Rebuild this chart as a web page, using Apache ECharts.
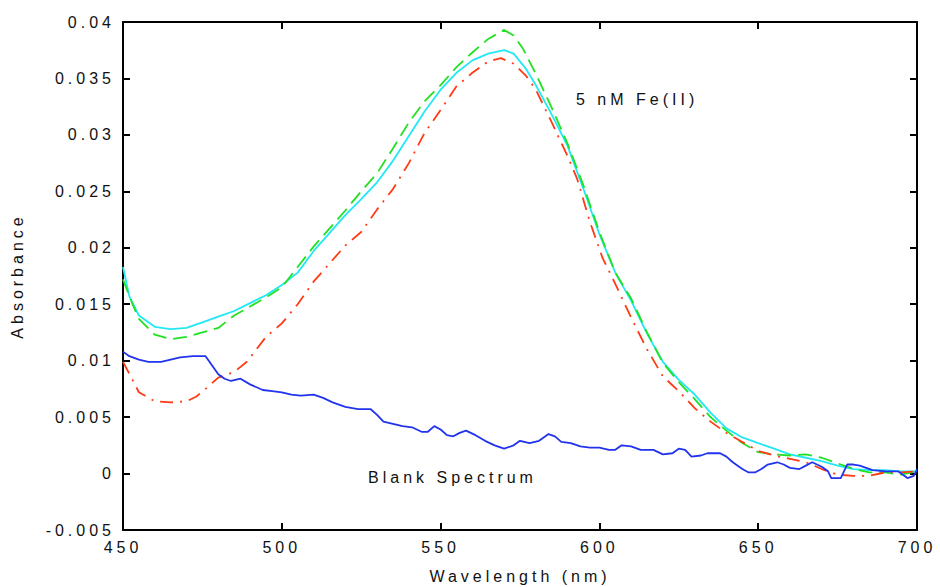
<!DOCTYPE html>
<html><head><meta charset="utf-8">
<script src="https://cdn.jsdelivr.net/npm/echarts@6/dist/echarts.min.js"></script>
<style>
html,body{margin:0;padding:0;background:#fff;overflow:hidden;}
#chart{width:940px;height:587px;}
#chart text{letter-spacing:4px;}
</style></head><body><div id="chart"></div>
<script>
// Cyan trace (5 nM Fe(II), solid)
const cyanWl = [450,452,455,460,465,470,475,480,485,490,495,500,505,510,515,520,525,530,535,540,545,550,555,560,565,570,573,577,580,585,590,595,600,605,610,615,620,625,630,635,640,645,650,655,660,665,670,675,680,685,690,695,700];
const cyanAbs = [0.0183,0.0157,0.0140,0.0130,0.0128,0.0129,0.0134,0.0139,0.0144,0.0151,0.0158,0.0167,0.0178,0.0197,0.0213,0.0229,0.0243,0.0258,0.0277,0.0299,0.0321,0.0340,0.0355,0.0366,0.0372,0.0375,0.0372,0.0358,0.0344,0.0318,0.0290,0.0252,0.0212,0.0178,0.0153,0.0124,0.0099,0.0083,0.0070,0.0054,0.0040,0.0032,0.0027,0.0022,0.0017,0.0014,0.0011,0.0007,0.0004,0.0003,0.0003,0.0002,0.0002];

// Green trace (dashed)
const greenWl = [450,453,455,460,465,470,475,480,485,490,495,500,505,510,515,520,525,530,535,540,545,550,555,560,565,570,573,576,580,585,590,595,600,605,610,615,620,625,630,635,640,645,650,655,660,665,670,675,680,685,690,695,700];
const greenAbs = [0.0172,0.0150,0.0137,0.0123,0.0119,0.0121,0.0125,0.0129,0.0140,0.0148,0.0156,0.0165,0.0183,0.0201,0.0217,0.0233,0.0250,0.0266,0.0288,0.0311,0.0330,0.0344,0.0360,0.0373,0.0385,0.0393,0.0388,0.0376,0.0354,0.0324,0.0292,0.0255,0.0214,0.0178,0.0155,0.0125,0.0098,0.0081,0.0066,0.0050,0.0038,0.0027,0.0019,0.0017,0.0016,0.0017,0.0014,0.0009,0.0004,0.0001,0.0001,-0.0001,0.0002];

// Red trace (dash-dot)
const redWl = [450,453,455,460,465,470,473,476,480,485,489,495,500,505,510,515,520,525,530,535,540,545,550,555,560,565,569,573,577,580,585,590,593,597,601,605,610,615,620,625,630,635,640,645,650,655,660,665,670,675,680,685,690,695,700];
const redAbs = [0.0099,0.0083,0.0072,0.0064,0.0063,0.0064,0.0068,0.0075,0.0085,0.0090,0.0099,0.0121,0.0133,0.0150,0.0170,0.0186,0.0202,0.0214,0.0234,0.0252,0.0275,0.0302,0.0322,0.0343,0.0355,0.0365,0.0368,0.0363,0.0352,0.0340,0.0311,0.0281,0.0261,0.0223,0.0191,0.0168,0.0138,0.0110,0.0086,0.0073,0.0058,0.0046,0.0036,0.0028,0.0020,0.0016,0.0013,0.0010,0.0004,-0.0001,-0.0002,-0.0002,0.0001,0.0001,0.0002];

// Blue trace (Blank Spectrum)
const blueWl = [450,452,455,458,462,465,468,472,476,478,480,482,484,487,490,494,497,500,503,506,510,513,516,520,524,528,530,532,535,538,541,544,546,548,550,552,554,556,558,561,564,567,570,573,575,578,581,584,586,588,591,594,597,600,603,605,607,610,613,617,620,623,625,627,629,632,634,638,640,642,645,647,649,651,653,656,658,660,663,665,667,670,672,673,676,678,680,682,686,690,694,697,699,700];
const blueAbs = [0.0108,0.0104,0.0101,0.0099,0.0099,0.0101,0.0103,0.0104,0.0104,0.0096,0.0088,0.0084,0.0082,0.0084,0.0079,0.0074,0.0073,0.0072,0.0070,0.0069,0.0070,0.0067,0.0063,0.0059,0.0057,0.0057,0.0052,0.0046,0.0044,0.0042,0.0041,0.0037,0.0037,0.0042,0.0039,0.0034,0.0033,0.0036,0.0038,0.0034,0.0029,0.0025,0.0022,0.0025,0.0029,0.0027,0.0029,0.0035,0.0033,0.0028,0.0027,0.0024,0.0023,0.0023,0.0021,0.0021,0.0025,0.0024,0.0021,0.0021,0.0017,0.0018,0.0022,0.0021,0.0015,0.0016,0.0018,0.0018,0.0015,0.0010,0.0004,0.0001,0.0001,0.0004,0.0008,0.0010,0.0008,0.0005,0.0004,0.0007,0.0010,0.0006,0.0002,-0.0004,-0.0004,0.0008,0.0008,0.0007,0.0003,0.0002,0.0002,-0.0004,-0.0002,0.0004];

const xTicks = [450,500,550,600,650,700];
const annotations = ['5 nM Fe(II)', 'Blank Spectrum'];
const xTitle = 'Wavelength (nm)';
const yTitle = 'Absorbance';

const pairs = (xs, ys) => xs.map((x, i) => [x, ys[i]]);
const FONT = 'Liberation Sans, Arial, sans-serif';

const chart = echarts.init(document.getElementById('chart'), null, {renderer: 'svg', width: 940, height: 587});
const axisLine = {show: true, onZero: false, lineStyle: {color: '#000', width: 2}};
const axisTick = {show: true, inside: true, length: 7, lineStyle: {color: '#000', width: 2}};

chart.setOption({
  animation: false,
  backgroundColor: '#fff',
  grid: {left: 123, right: 23, top: 22, bottom: 57, containLabel: false, outerBoundsMode: 'none'},
  xAxis: [
    {type: 'value', min: xTicks[0], max: xTicks[xTicks.length-1], interval: 50, position: 'bottom',
     axisLine, axisTick, splitLine: {show: false},
     axisLabel: {show: true, margin: 9, color: '#111', fontSize: 16, fontFamily: FONT},
     name: xTitle, nameLocation: 'middle', nameGap: 38,
     nameTextStyle: {color: '#111', fontSize: 16, fontFamily: FONT}},
    {type: 'value', min: xTicks[0], max: xTicks[xTicks.length-1], interval: 50, position: 'top',
     axisLine, axisTick, splitLine: {show: false}, axisLabel: {show: false}}
  ],
  yAxis: [
    {type: 'value', min: -0.005, max: 0.04, interval: 0.005, position: 'left',
     axisLine, axisTick, splitLine: {show: false},
     axisLabel: {show: true, margin: 8, color: '#111', fontSize: 16, fontFamily: FONT,
       formatter: v => String(+v.toFixed(3))},
     name: yTitle, nameLocation: 'middle', nameGap: 98, nameRotate: 90,
     nameTextStyle: {color: '#111', fontSize: 16, fontFamily: FONT}},
    {type: 'value', min: -0.005, max: 0.04, interval: 0.005, position: 'right',
     axisLine, axisTick, splitLine: {show: false}, axisLabel: {show: false}}
  ],
  series: [
    {type: 'line', name: 'cyan', data: pairs(cyanWl, cyanAbs), showSymbol: false, symbol: 'none',
     lineStyle: {color: '#22e8f4', width: 1.8}, z: 2},
    {type: 'line', name: 'green', data: pairs(greenWl, greenAbs), showSymbol: false, symbol: 'none',
     lineStyle: {color: '#22e022', width: 1.8, type: [14, 7]}, z: 3},
    {type: 'line', name: 'red', data: pairs(redWl, redAbs), showSymbol: false, symbol: 'none',
     lineStyle: {color: '#ff3a14', width: 1.8, type: [13, 7, 2, 7]}, z: 4},
    {type: 'line', name: 'blank', data: pairs(blueWl, blueAbs), showSymbol: false, symbol: 'none',
     lineStyle: {color: '#2233ee', width: 1.8}, z: 5}
  ],
  graphic: [
    {type: 'text', left: 576, top: 91, style: {text: annotations[0], fill: '#111', font: '16px ' + FONT}},
    {type: 'text', left: 368, top: 469, style: {text: annotations[1], fill: '#111', font: '16px ' + FONT}}
  ]
});
</script>
</body></html>
